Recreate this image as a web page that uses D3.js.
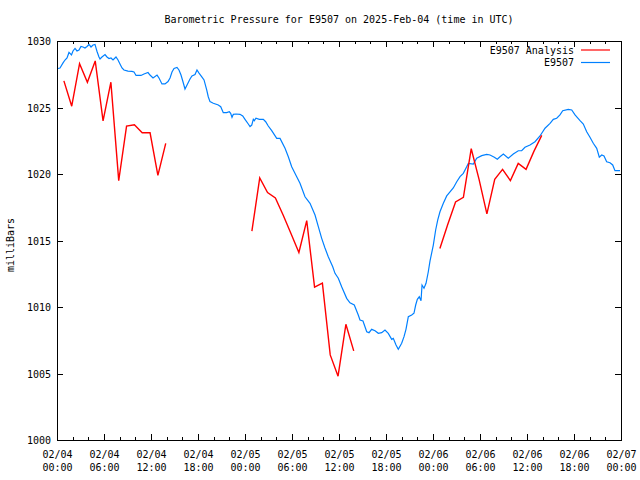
<!DOCTYPE html>
<html><head><meta charset="utf-8">
<script src="https://cdn.jsdelivr.net/npm/d3@7"></script>
<style>body{margin:0;background:#fff}svg{display:block}</style>
</head><body>
<svg id="c" width="640" height="480"></svg>
<script>
const title = "Barometric Pressure for E9507 on 2025-Feb-04 (time in UTC)";
const yLabel = "milliBars";
const seriesNames = ["E9507 Analysis", "E9507"];
const seriesColors = ["#ff0000", "#0080ff"];
const startTime = Date.UTC(2025, 1, 4, 0, 0);
const endTime = Date.UTC(2025, 1, 7, 0, 0);
const yDomain = [1000, 1030];
const yTicks = [1000, 1005, 1010, 1015, 1020, 1025, 1030];

// Analysis series: hours since 2025-02-04 00:00 UTC; null = gap
const analysisHours = [
  0.88, 1.88, 2.88, 3.88, 4.88, 5.88, 6.88, 7.88, 8.88, 9.88, 10.88, 11.88, 12.88, 13.88,
  14.5,
  24.88, 25.88, 26.88, 27.88, 28.88, 29.88, 30.88, 31.88, 32.88, 33.88, 34.88, 35.88, 36.88, 37.88,
  38.5,
  48.88, 49.88, 50.88, 51.88, 52.88, 53.88, 54.88, 55.88, 56.88, 57.88, 58.88, 59.88, 60.88, 61.88
];
const analysisValues = [
  1027.0, 1025.1, 1028.3, 1026.9, 1028.5, 1024.0, 1026.9, 1019.5, 1023.6, 1023.7, 1023.1, 1023.1, 1019.9, 1022.3,
  null,
  1015.7, 1019.7, 1018.6, 1018.2, 1016.9, 1015.5, 1014.1, 1016.5, 1011.5, 1011.8, 1006.4, 1004.8, 1008.7, 1006.7,
  null,
  1014.4, 1016.2, 1017.9, 1018.25, 1021.9, 1019.6, 1017.0, 1019.6, 1020.35, 1019.5, 1020.8, 1020.35, 1021.7, 1022.9
];

// Station series: hours since 2025-02-04 00:00 UTC
const stationHours = [
  0.13, 0.38, 0.77, 1.02, 1.28, 1.53, 1.85, 2.04, 2.30, 2.55, 2.81, 3.06, 3.32, 3.57, 3.83, 4.09, 4.34, 4.60, 4.85, 5.11,
  5.36, 5.49, 5.74, 6.13, 6.38, 6.64, 6.89, 7.15, 7.53, 7.79, 8.04, 8.30, 8.55, 9.06, 9.57, 9.83, 10.09, 10.72, 11.11, 11.62,
  11.87, 12.26, 12.77, 13.02, 13.40, 13.79, 14.17, 14.43, 14.68, 14.94, 15.32, 15.57, 15.83, 16.09, 16.34, 16.60, 16.98, 17.23, 17.62, 17.87,
  18.13, 18.51, 18.77, 19.11, 19.31, 19.53, 19.95, 20.59, 20.90, 21.23, 21.66, 22.00, 22.17, 22.34, 22.51, 22.85, 23.36, 23.71, 24.00, 24.42,
  24.64, 24.86, 25.06, 25.19, 25.40, 25.83, 26.34, 26.64, 26.97, 27.41, 28.05, 28.47, 29.11, 29.53, 29.96, 30.60, 31.02, 31.66, 32.30, 32.94,
  33.36, 33.79, 34.21, 34.63, 35.20, 35.49, 35.91, 36.34, 36.98, 37.40, 37.95, 38.46, 38.68, 39.06, 39.54, 39.83, 40.17, 40.60, 41.02, 41.45,
  41.87, 42.29, 42.73, 42.93, 43.28, 43.57, 44.00, 44.30, 44.55, 44.85, 45.28, 45.57, 45.79, 46.00, 46.25, 46.47, 46.60, 46.85, 47.11, 47.40,
  47.62, 48.04, 48.34, 48.60, 48.89, 49.32, 49.75, 50.17, 50.59, 51.03, 51.45, 51.87, 52.30, 52.51, 53.15, 53.58, 54.22, 54.86, 55.28, 55.83,
  56.21, 56.55, 56.98, 57.61, 58.25, 58.89, 59.32, 59.74, 60.38, 61.02, 61.66, 62.30, 62.94, 63.36, 63.79, 64.21, 64.56, 65.27, 65.71, 66.13,
  66.77, 67.19, 67.62, 68.04, 68.46, 68.90, 69.23, 69.54, 69.83, 70.17, 70.60, 70.94, 71.23, 71.87
];
const stationValues = [
  1027.93, 1027.97, 1028.35, 1028.57, 1028.72, 1029.14, 1028.95, 1029.25, 1029.44, 1029.25, 1029.32, 1029.59, 1029.55, 1029.47, 1029.59, 1029.74, 1029.55, 1029.70, 1029.74, 1029.21,
  1028.80, 1028.65, 1028.80, 1028.98, 1028.80, 1028.68, 1028.72, 1028.57, 1028.80, 1028.57, 1028.27, 1027.97, 1027.82, 1027.74, 1027.71, 1027.67, 1027.41, 1027.41, 1027.52, 1027.63,
  1027.44, 1027.22, 1027.44, 1027.22, 1026.77, 1026.77, 1026.95, 1027.22, 1027.67, 1027.93, 1028.01, 1027.82, 1027.44, 1026.92, 1026.39, 1026.69, 1027.14, 1027.37, 1027.48, 1027.82,
  1027.59, 1027.29, 1027.07, 1026.32, 1025.81, 1025.44, 1025.32, 1025.19, 1025.06, 1024.61, 1024.61, 1024.68, 1024.56, 1024.26, 1024.49, 1024.51, 1024.49, 1024.36, 1024.11, 1023.76,
  1023.56, 1023.68, 1024.11, 1024.01, 1024.19, 1024.11, 1024.11, 1023.93, 1023.61, 1023.26, 1022.68, 1022.68, 1021.93, 1021.30, 1020.55, 1019.80, 1019.30, 1018.29, 1017.80, 1016.92,
  1016.04, 1015.16, 1014.44, 1013.78, 1013.03, 1012.53, 1012.16, 1011.53, 1010.65, 1010.32, 1010.15, 1009.40, 1009.02, 1008.95, 1008.14, 1008.07, 1008.32, 1008.22, 1008.02, 1008.07,
  1008.27, 1008.02, 1007.57, 1007.64, 1007.14, 1006.82, 1007.27, 1007.77, 1008.32, 1009.27, 1009.40, 1009.53, 1010.15, 1010.58, 1010.77, 1010.47, 1011.65, 1011.41, 1011.78, 1012.65,
  1013.46, 1014.66, 1015.79, 1016.54, 1017.16, 1017.80, 1018.35, 1018.65, 1018.95, 1019.42, 1019.80, 1020.05, 1020.55, 1020.80, 1020.75, 1021.18, 1021.38, 1021.48, 1021.43, 1021.26,
  1021.11, 1021.30, 1021.50, 1021.18, 1021.50, 1021.75, 1021.75, 1022.01, 1022.18, 1022.43, 1022.86, 1023.44, 1023.81, 1024.11, 1024.19, 1024.44, 1024.76, 1024.86, 1024.81, 1024.44,
  1024.01, 1023.76, 1023.18, 1022.76, 1022.31, 1021.93, 1021.26, 1021.43, 1021.35, 1020.92, 1020.85, 1020.68, 1020.25, 1020.25
];

const FONT = "'DejaVu Sans Mono', 'Liberation Mono', monospace";
const svg = d3.select("#c");
const m = {left: 57, right: 621, top: 41, bottom: 440};

const x = d3.scaleUtc().domain([new Date(startTime), new Date(endTime)]).range([m.left, m.right]);
const y = d3.scaleLinear().domain(yDomain).range([m.bottom, m.top]);

const toDate = h => new Date(startTime + h * 3600e3);
const majorTicks = d3.utcHour.every(6).range(new Date(startTime), new Date(endTime + 1));
const minorTicks = d3.utcHour.every(2).range(new Date(startTime), new Date(endTime + 1))
  .filter(d => d.getUTCHours() % 6 !== 0);

const fmtDate = d3.utcFormat("%m/%d");
const fmtTime = d3.utcFormat("%H:%M");

function styleAxis(g) {
  g.select(".domain").remove();
  g.selectAll("line").attr("stroke", "#000").attr("shape-rendering", "crispEdges");
  g.selectAll("text").attr("font-family", FONT).attr("font-size", 10).attr("fill", "#000");
}

// bottom major
const gb = svg.append("g").attr("transform", `translate(0,${m.bottom})`)
  .call(d3.axisBottom(x).tickValues(majorTicks).tickSizeInner(-6).tickSizeOuter(0).tickPadding(0).tickFormat(fmtDate));
styleAxis(gb);
gb.selectAll(".tick text").each(function(d) {
  const t = d3.select(this);
  t.text(null).attr("y", 0).attr("dy", null);
  t.append("tspan").attr("x", 0).attr("y", 17.5).text(fmtDate(d));
  t.append("tspan").attr("x", 0).attr("y", 30.5).text(fmtTime(d));
});
// bottom minor
const gbm = svg.append("g").attr("transform", `translate(0,${m.bottom})`)
  .call(d3.axisBottom(x).tickValues(minorTicks).tickSizeInner(-3).tickSizeOuter(0).tickFormat(""));
styleAxis(gbm);
// top major + minor
const gt = svg.append("g").attr("transform", `translate(0,${m.top})`)
  .call(d3.axisTop(x).tickValues(majorTicks).tickSizeInner(-6).tickSizeOuter(0).tickFormat(""));
styleAxis(gt);
const gtm = svg.append("g").attr("transform", `translate(0,${m.top})`)
  .call(d3.axisTop(x).tickValues(minorTicks).tickSizeInner(-3).tickSizeOuter(0).tickFormat(""));
styleAxis(gtm);
// left
const gl = svg.append("g").attr("transform", `translate(${m.left},0)`)
  .call(d3.axisLeft(y).tickValues(yTicks).tickSizeInner(-6).tickSizeOuter(0).tickPadding(6).tickFormat(d3.format("d")));
styleAxis(gl);
gl.selectAll(".tick text").attr("dy", "0.35em");
// right
const gr = svg.append("g").attr("transform", `translate(${m.right},0)`)
  .call(d3.axisRight(y).tickValues(yTicks).tickSizeInner(-6).tickSizeOuter(0).tickFormat(""));
styleAxis(gr);

// border
svg.append("rect").attr("x", m.left + 0.5).attr("y", m.top + 0.5)
  .attr("width", m.right - m.left).attr("height", m.bottom - m.top)
  .attr("fill", "none").attr("stroke", "#000").attr("shape-rendering", "crispEdges");

// data lines
const analysis = analysisHours.map((h, i) => ({t: toDate(h), v: analysisValues[i]}));
const station = stationHours.map((h, i) => ({t: toDate(h), v: stationValues[i]}));
const line = d3.line().defined(d => d.v != null).x(d => x(d.t)).y(d => y(d.v));

svg.append("path").datum(station).attr("d", line)
  .attr("fill", "none").attr("stroke", seriesColors[1]).attr("stroke-width", 1.2);
svg.append("path").datum(analysis).attr("d", line)
  .attr("fill", "none").attr("stroke", seriesColors[0]).attr("stroke-width", 1.4);

// title
svg.append("text").attr("x", (m.left + m.right) / 2).attr("y", 22.5)
  .attr("text-anchor", "middle").attr("font-family", FONT).attr("font-size", 10).text(title);

// y label
svg.append("text").attr("transform", "translate(14,245) rotate(-90)")
  .attr("text-anchor", "middle").attr("font-family", FONT).attr("font-size", 10).text(yLabel);

// legend
const legendY = [50, 62.5];
seriesNames.forEach((name, i) => {
  svg.append("text").attr("x", 574).attr("y", legendY[i]).attr("dy", "0.35em")
    .attr("text-anchor", "end").attr("font-family", FONT).attr("font-size", 10).text(name);
  svg.append("line").attr("x1", 581).attr("x2", 610).attr("y1", legendY[i]).attr("y2", legendY[i])
    .attr("stroke", seriesColors[i]).attr("stroke-width", 1.2);
});
</script>
</body></html>
